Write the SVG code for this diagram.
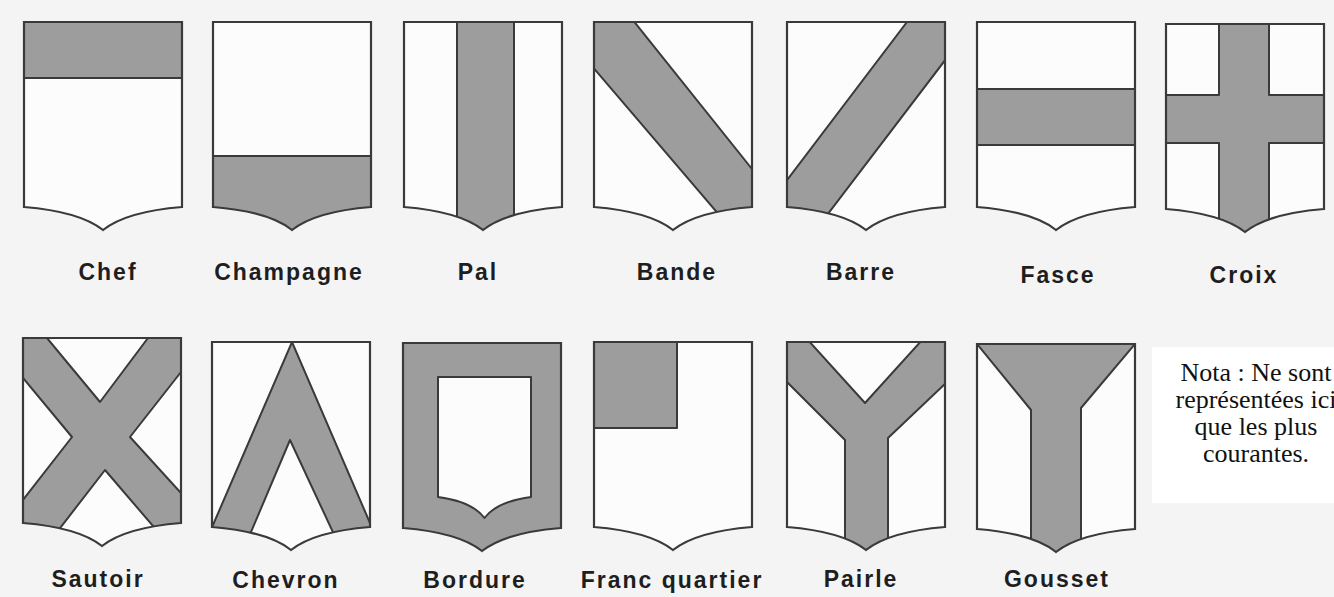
<svg xmlns="http://www.w3.org/2000/svg" xmlns:xlink="http://www.w3.org/1999/xlink" width="1334" height="597" viewBox="0 0 1334 597">
<style>
.bg{fill:#f4f4f4}
.field{fill:#fcfcfc}
.gfield{fill:#9d9d9d}
.ord{fill:#9d9d9d;stroke:#3a3a3a;stroke-width:2;stroke-linejoin:round}
.wht{fill:#fcfcfc;stroke:#3a3a3a;stroke-width:2;stroke-linejoin:round}
.outline{fill:none;stroke:#3a3a3a;stroke-width:2.2;stroke-linejoin:miter}
.lbl{font-family:"Liberation Sans",Arial,sans-serif;font-weight:bold;font-size:23px;letter-spacing:2px;fill:#1e1e1e;text-anchor:middle}
.nota{font-family:"Liberation Serif","Times New Roman",serif;font-size:26px;fill:#111;text-anchor:middle}
</style>
<defs>
<path id="shield" d="M0,0 H158 V185 C133,187 98,193 79,208 C60,193 25,187 0,185 Z"/>
<clipPath id="clip" clipPathUnits="userSpaceOnUse"><use xlink:href="#shield" href="#shield"/></clipPath>
</defs>
<rect class="bg" x="0" y="0" width="1334" height="597"/>
<g id="connectors"></g>

<g id="chef" transform="translate(24,22)">
<use href="#shield" class="field"/>
<g clip-path="url(#clip)"><rect class="ord" x="-3" y="-3" width="164" height="59"/></g>
<use href="#shield" class="outline"/>
<text class="lbl" x="84" y="258">Chef</text>
</g>

<g id="champagne" transform="translate(213,22)">
<use href="#shield" class="field"/>
<g clip-path="url(#clip)"><rect class="ord" x="-3" y="134" width="164" height="90"/></g>
<use href="#shield" class="outline"/>
<text class="lbl" x="76" y="258">Champagne</text>
</g>

<g id="pal" transform="translate(404,22)">
<use href="#shield" class="field"/>
<g clip-path="url(#clip)"><rect class="ord" x="53" y="-3" width="57" height="225"/></g>
<use href="#shield" class="outline"/>
<text class="lbl" x="74" y="258">Pal</text>
</g>

<g id="bande" transform="translate(594,22)">
<use href="#shield" class="field"/>
<g clip-path="url(#clip)"><polygon class="ord" points="-3,-3 38,-3 162,152 162,236 -3,43"/></g>
<use href="#shield" class="outline"/>
<text class="lbl" x="83" y="258">Bande</text>
</g>

<g id="barre" transform="translate(787,22)">
<use href="#shield" class="field"/>
<g clip-path="url(#clip)"><polygon class="ord" points="120,0 122,-3 162,-3 162,33 18,222 -3,222 -3,162"/></g>
<use href="#shield" class="outline"/>
<text class="lbl" x="74" y="258">Barre</text>
</g>

<g id="fasce" transform="translate(977,22)">
<use href="#shield" class="field"/>
<g clip-path="url(#clip)"><rect class="ord" x="-3" y="67" width="164" height="56"/></g>
<use href="#shield" class="outline"/>
<text class="lbl" x="81" y="261">Fasce</text>
</g>

<g id="croix" transform="translate(1166,24)">
<use href="#shield" class="field"/>
<g clip-path="url(#clip)"><polygon class="ord" points="53,-3 103,-3 103,71 162,71 162,119 103,119 103,222 53,222 53,119 -3,119 -3,71 53,71"/></g>
<use href="#shield" class="outline"/>
<text class="lbl" x="78" y="259">Croix</text>
</g>

<g id="sautoir" transform="translate(23,338)">
<use href="#shield" class="gfield"/>
<g clip-path="url(#clip)">
<polygon class="wht" points="24,0 125,0 77,64"/>
<polygon class="wht" points="158,34 107,99 158,155"/>
<polygon class="wht" points="82,132 154,216 17,216"/>
<polygon class="wht" points="0,40 49,99 0,162"/>
</g>
<use href="#shield" class="outline"/>
<text class="lbl" x="75" y="249">Sautoir</text>
</g>

<g id="chevron" transform="translate(212,342)">
<use href="#shield" class="gfield"/>
<g clip-path="url(#clip)">
<polygon class="wht" points="-3,-3 80,-3 80,0 1,183 -3,190"/>
<polygon class="wht" points="80,0 80,-3 162,-3 162,190 158,181"/>
<polygon class="wht" points="78,98 133,216 28,216"/>
</g>
<use href="#shield" class="outline"/>
<text class="lbl" x="74" y="246">Chevron</text>
</g>

<g id="bordure" transform="translate(403,343)">
<use href="#shield" class="gfield"/>
<path class="wht" d="M35,34 H128 V154 C113,156 92,161 81.5,175 C71,161 50,156 35,154 Z"/>
<use href="#shield" class="outline"/>
<text class="lbl" x="72" y="245">Bordure</text>
</g>

<g id="franc-quartier" transform="translate(594,342)">
<use href="#shield" class="field"/>
<g clip-path="url(#clip)"><rect class="ord" x="-3" y="-3" width="86" height="89"/></g>
<use href="#shield" class="outline"/>
<text class="lbl" x="78" y="246">Franc quartier</text>
</g>

<g id="pairle" transform="translate(787,342)">
<use href="#shield" class="gfield"/>
<g clip-path="url(#clip)">
<polygon class="wht" points="20,-3 20,0 136,0 136,-3 78,61"/>
<polygon class="wht" points="-3,38 0,40 58,98 58,222 -3,222"/>
<polygon class="wht" points="162,38 159,41 101,96 101,222 162,222"/>
</g>
<use href="#shield" class="outline"/>
<text class="lbl" x="74" y="245">Pairle</text>
</g>

<g id="gousset" transform="translate(977,344)">
<use href="#shield" class="field"/>
<g clip-path="url(#clip)"><polygon class="ord" points="-3,-3 161,-3 158,0 104,64 104,222 54,222 54,66 0,0"/></g>
<use href="#shield" class="outline"/>
<text class="lbl" x="80" y="243">Gousset</text>
</g>

<g id="nota">
<rect x="1152" y="347" width="182" height="156" fill="#ffffff"/>
<text class="nota" x="1256" y="381">Nota : Ne sont</text>
<text class="nota" x="1256" y="408">représentées ici</text>
<text class="nota" x="1256" y="435">que les plus</text>
<text class="nota" x="1256" y="462">courantes.</text>
</g>
</svg>
